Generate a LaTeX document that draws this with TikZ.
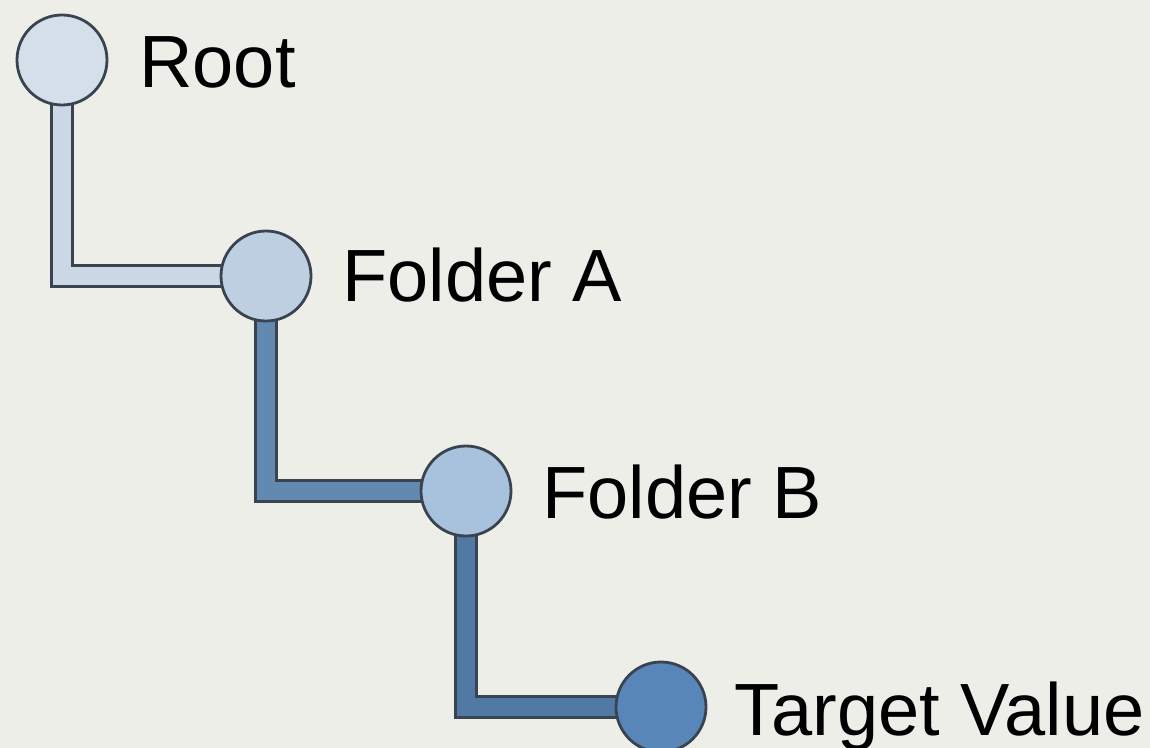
\documentclass[tikz,border=0pt]{standalone}
\usepackage{fontspec}
\setmainfont{Liberation Sans}
\usepackage{tikz}

\definecolor{fond}{RGB}{238,238,233}
\definecolor{contour}{RGB}{58,68,80}
\definecolor{bleuA}{RGB}{212,223,234}
\definecolor{bleuB}{RGB}{190,207,226}
\definecolor{bleuC}{RGB}{168,193,221}
\definecolor{bleuD}{RGB}{88,134,184}
\definecolor{tigeA}{RGB}{204,216,229}
\definecolor{tigeB}{RGB}{98,138,176}
\definecolor{tigeC}{RGB}{80,121,163}

\tikzset{
    noeud/.style={circle, draw=contour, line width=1.4pt, fill=#1, minimum size=45pt, inner sep=0pt},
    tige/.style={draw=contour, line width=1.1pt, double=#1, double distance=9.4pt, line join=miter},
    etiquette/.style={anchor=base west, inner sep=0pt, font=\fontsize{37}{44}\selectfont}
}

\begin{document}
\begin{tikzpicture}[x=0.5pt, y=-0.5pt]
    % Fond
    \fill[fond] (0,0) rectangle (1150,748);
    \useasboundingbox (0,0) rectangle (1150,748);

    % Les noeuds de l'arborescence
    \coordinate (p0) at (62,60);
    \coordinate (p1) at (266,276);
    \coordinate (p2) at (466,491);
    \coordinate (p3) at (661,707);

    % Tiges entre les noeuds
    \draw[tige=tigeA] (p0) |- (p1);
    \draw[tige=tigeB] (p1) |- (p2);
    \draw[tige=tigeC] (p2) |- (p3);

    \node[noeud=bleuA] (root) at (p0) {};
    \node[noeud=bleuB] (folderA) at (p1) {};
    \node[noeud=bleuC] (folderB) at (p2) {};
    \node[noeud=bleuD] (target) at (p3) {};

    % Etiquettes
    \node[etiquette] (lroot) at (139,88) {Root};
    \node[etiquette] (lfolderA) at (342,302) {Folder A};
    \node[etiquette] (lfolderB) at (542,518) {Folder B};
    \node[etiquette] (ltarget) at (734,735) {Target Value};
\end{tikzpicture}
\end{document}
